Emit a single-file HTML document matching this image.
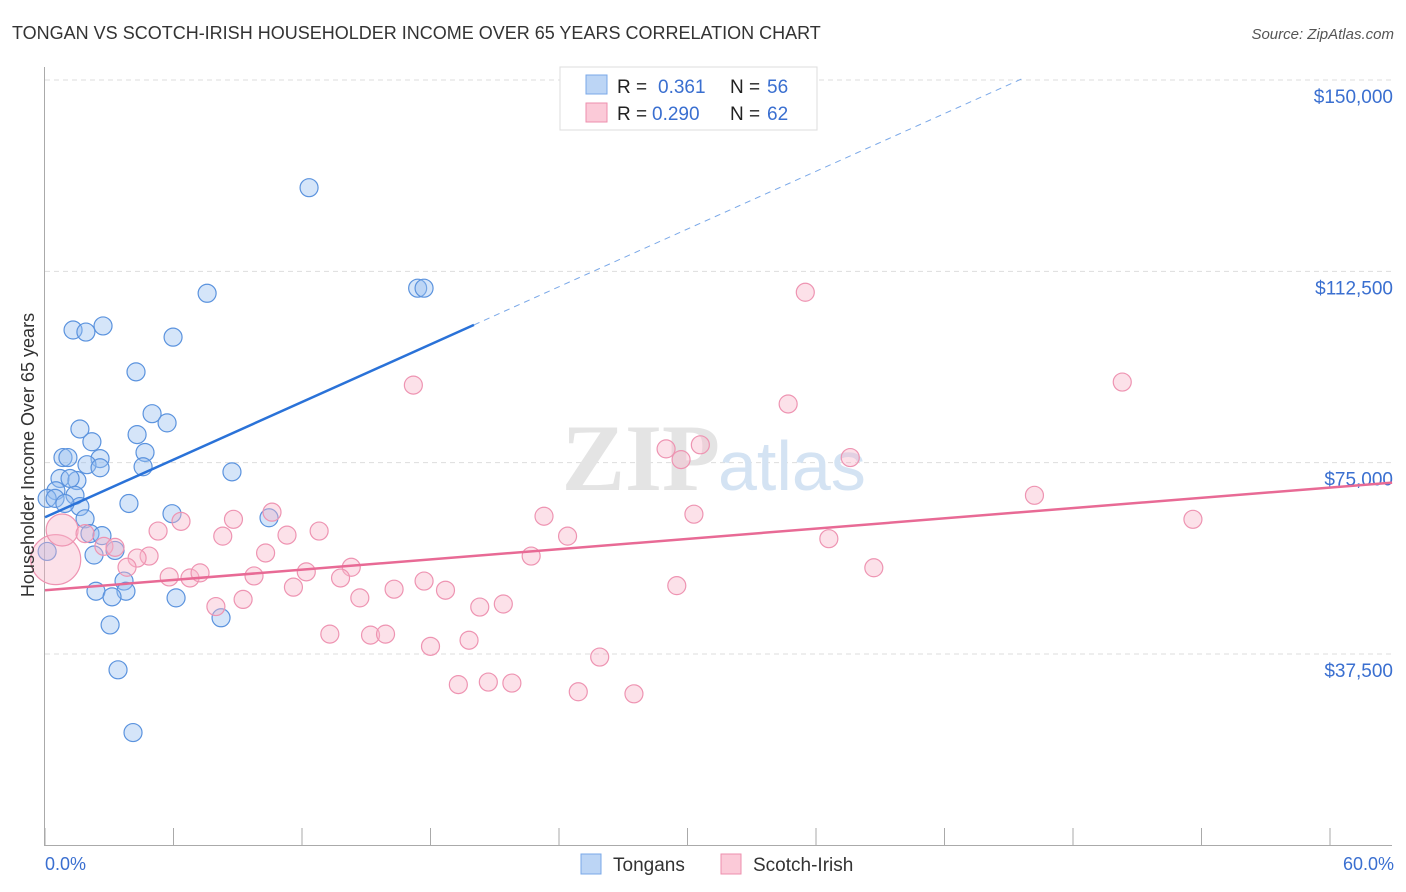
<!DOCTYPE html>
<html><head><meta charset="utf-8"><style>
body{margin:0;background:#fff;font-family:"Liberation Sans",sans-serif;}
svg{display:block}
</style></head><body>
<svg id="chart" width="1406" height="892" xmlns="http://www.w3.org/2000/svg">
<text x="12" y="39" font-size="18" fill="#333">TONGAN VS SCOTCH-IRISH HOUSEHOLDER INCOME OVER 65 YEARS CORRELATION CHART</text>
<text x="1394" y="39" font-size="15" fill="#555" font-style="italic" text-anchor="end">Source: ZipAtlas.com</text>
<g id="grid"></g>
<text x="720" y="490" font-size="95" font-weight="bold" fill="#e4e4e4" text-anchor="end" font-family="Liberation Serif">ZIP</text>
<text x="718" y="490" font-size="70" fill="#d4e3f3">atlas</text>
<g id="axes"></g>
<g id="marks"></g>
<text transform="translate(34,455) rotate(-90)" font-size="18" fill="#333" text-anchor="middle">Householder Income Over 65 years</text>
<text x="45" y="870" font-size="18" fill="#3a6fd0">0.0%</text>
<text x="1394" y="870" font-size="18" fill="#3a6fd0" text-anchor="end">60.0%</text>
<g>
<rect x="560" y="67" width="257" height="63" fill="#fff" stroke="#ddd"/>
<rect x="586" y="75" width="21" height="19" fill="#bcd5f5" stroke="#7aa8e8"/>
<rect x="586" y="103" width="21" height="19" fill="#fbcad8" stroke="#ee8fae"/>
<text x="617" y="93" font-size="19" fill="#222">R = </text><text x="658" y="93" font-size="19" fill="#3a6fd0">0.361</text>
<text x="730" y="93" font-size="19" fill="#222">N = </text><text x="767" y="93" font-size="19" fill="#3a6fd0">56</text>
<text x="617" y="120" font-size="19" fill="#222">R = </text><text x="652" y="120" font-size="19" fill="#3a6fd0">0.290</text>
<text x="730" y="120" font-size="19" fill="#222">N = </text><text x="767" y="120" font-size="19" fill="#3a6fd0">62</text>
</g>
<g>
<rect x="581" y="854" width="20" height="20" fill="#bcd5f5" stroke="#7aa8e8"/>
<text x="613" y="871" font-size="19" fill="#333">Tongans</text>
<rect x="721" y="854" width="20" height="20" fill="#fbcad8" stroke="#ee8fae"/>
<text x="753" y="871" font-size="19" fill="#333">Scotch-Irish</text>
</g>
</svg>
<script>
const yTicks=[37500,75000,112500,150000];
const yTickLabels=["$37,500","$75,000","$112,500","$150,000"];
const xTicks=[0,6,12,18,24,30,36,42,48,54,60];
const tonganX=[12.33,1.31,1.91,2.71,5.98,7.57,17.4,17.7,4.25,5.0,5.7,1.63,4.3,2.19,4.67,4.58,0.84,1.07,2.57,1.96,2.57,8.73,0.7,1.49,1.17,0.51,0.1,0.47,1.4,1.63,0.93,3.92,5.93,10.46,1.87,2.1,2.66,3.27,0.1,2.29,3.69,2.38,3.78,3.13,6.12,8.22,3.04,3.41,4.11];
const tonganY=[128900,101000,100600,101800,99600,108200,109200,109200,92800,84600,82800,81600,80500,79100,77000,74200,76000,76000,75800,74600,74000,73200,71900,71500,71900,69500,68000,68000,68600,66400,67000,67000,65000,64200,64000,61100,60700,57800,57600,56900,51800,49800,49800,48700,48500,44600,43200,34400,22100];
const scotchX=[0.5,0.8,35.5,17.2,50.3,34.7,29.0,30.6,29.7,37.6,46.2,53.6,23.3,30.3,10.6,8.8,6.35,12.8,11.3,5.28,8.3,24.4,36.6,1.87,2.75,3.27,4.86,4.3,10.3,22.7,14.3,38.7,3.83,5.8,6.77,7.24,9.76,12.2,13.8,17.7,11.6,16.3,18.7,29.5,7.98,9.25,14.7,20.3,21.4,13.3,15.2,15.9,19.8,18.0,25.9,19.3,20.7,21.8,24.9,27.5];
const scotchY=[56000,61800,108400,90200,90800,86500,77700,78500,75600,76000,68600,63900,64500,64900,65300,63900,63500,61600,60800,61600,60600,60600,60100,61100,58600,58400,56700,56300,57300,56700,54500,54400,54500,52600,52400,53400,52800,53600,52400,51800,50600,50200,50000,50900,46800,48200,48500,46700,47300,41400,41200,41400,40200,39000,36900,31500,32000,31800,30100,29700];
const scotchR=[25,16,9,9,9,9,9,9,9,9,9,9,9,9,9,9,9,9,9,9,9,9,9,9,9,9,9,9,9,9,9,9,9,9,9,9,9,9,9,9,9,9,9,9,9,9,9,9,9,9,9,9,9,9,9,9,9,9,9,9];
const tonganTrend=[[0,64300],[20.03,102000]];
const tonganTrendExt=[[20.03,102000],[45.7,150400]];
const scotchTrend=[[0,50000],[62.9,71100]];
const NS="http://www.w3.org/2000/svg";
const X=v=>45+v*1285/60;
const Y=v=>654-(v-37500)*191.33/37500;
function mk(t,a,p){const e=document.createElementNS(NS,t);for(const k in a)e.setAttribute(k,a[k]);p.appendChild(e);return e;}
const grid=document.getElementById('grid'),axes=document.getElementById('axes'),marks=document.getElementById('marks');
yTicks.forEach((v,i)=>{
 const l=mk('line',{x1:45,x2:1392,y1:Y(v),y2:Y(v),stroke:'#ddd','stroke-dasharray':'5,4'},grid);
 
 
 const t=mk('text',{x:1393,y:Y(v)+23,'font-size':19,fill:'#3a6fd0','text-anchor':'end'},axes);
 t.textContent=yTickLabels[i];
 
 
});
const ya=mk('line',{x1:44.5,x2:44.5,y1:67,y2:846,stroke:'#aaa'},axes);


const xa=mk('line',{x1:45,x2:1392,y1:845.5,y2:845.5,stroke:'#aaa'},axes);


xTicks.forEach(v=>{
 const t=mk('line',{x1:X(v),x2:X(v),y1:828,y2:846,stroke:'#aaa'},axes);
 
 
});
tonganX.forEach((v,i)=>{
 const c=mk('circle',{cx:X(v),cy:Y(tonganY[i]),r:9,fill:'rgba(150,190,240,0.4)',stroke:'#5b93de','stroke-width':1.2},marks);
 
 
});
scotchX.forEach((v,i)=>{
 const c=mk('circle',{cx:X(v),cy:Y(scotchY[i]),r:scotchR[i],fill:'rgba(248,180,200,0.4)',stroke:'#ee94b2','stroke-width':1.2},marks);
 
 
});
function line(pts,a){const e=mk('line',Object.assign({x1:X(pts[0][0]),y1:Y(pts[0][1]),x2:X(pts[1][0]),y2:Y(pts[1][1])},a),marks);return e;}
const t1=line(tonganTrend,{stroke:'#2a72d8','stroke-width':2.5});


const t2=line(tonganTrendExt,{stroke:'#7aa8e8','stroke-width':1,'stroke-dasharray':'6,5'});


const t3=line(scotchTrend,{stroke:'#e86a95','stroke-width':2.5});


</script>
</body></html>
